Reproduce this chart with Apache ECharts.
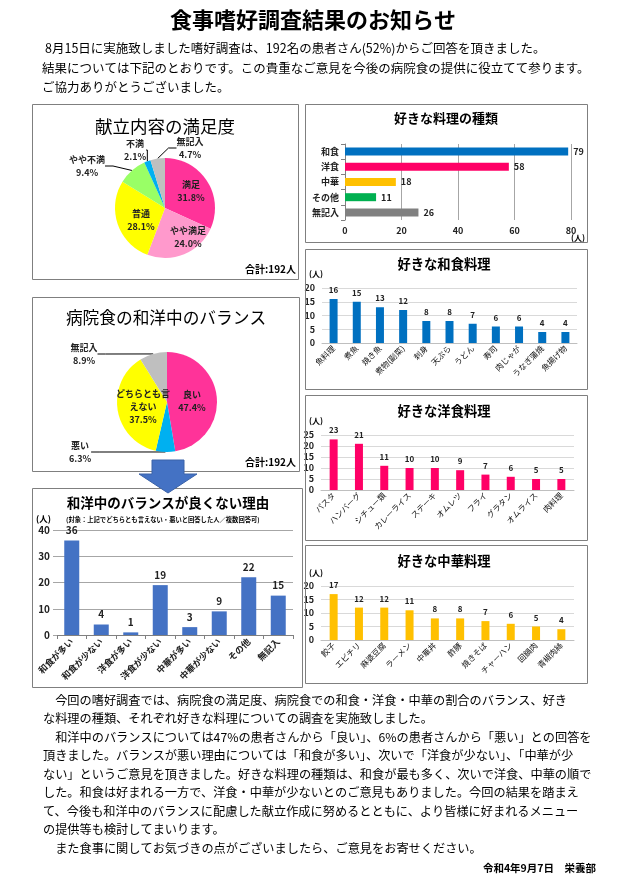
<!DOCTYPE html>
<html><head><meta charset="utf-8">
<script src="https://cdn.jsdelivr.net/npm/echarts@6/dist/echarts.min.js"></script>
<style>html,body{margin:0;padding:0;background:#fff}#c{width:627px;height:885px}</style>
</head><body><div id="c"></div>
<script>
// ---- data ----
const satisfactionLabels = ['満足','やや満足','普通','やや不満','不満','無記入'];
const satisfactionPct = [31.8, 24.0, 28.1, 9.4, 2.1, 4.7];
const balanceLabels = ['良い','悪い','どちらとも言えない','無記入'];
const balancePct = [47.4, 6.3, 37.5, 8.9];
const typeCategories = ['和食','洋食','中華','その他','無記入'];
const typeValues = [79, 58, 18, 11, 26];
const typeTicks = [0, 20, 40, 60, 80];
const washokuCats = ['魚料理','煮魚','焼き魚','煮物(副菜)','刺身','天ぷら','うどん','寿司','肉じゃが','うなぎ蒲焼','魚揚げ物'];
const washokuValues = [16, 15, 13, 12, 8, 8, 7, 6, 6, 4, 4];
const yoshokuCats = ['パスタ','ハンバーグ','シチュー類','カレーライス','ステーキ','オムレツ','フライ','グラタン','オムライス','肉料理'];
const yoshokuValues = [23, 21, 11, 10, 10, 9, 7, 6, 5, 5];
const chukaCats = ['餃子','エビチリ','麻婆豆腐','ラーメン','中華丼','酢豚','焼きそば','チャーハン','回鍋肉','青椒肉絲'];
const chukaValues = [17, 12, 12, 11, 8, 8, 7, 6, 5, 4];
const reasonCats = ['和食が多い','和食が少ない','洋食が多い','洋食が少ない','中華が多い','中華が少ない','その他','無記入'];
const reasonValues = [36, 4, 1, 19, 3, 9, 22, 15];
const titleText = '食事嗜好調査結果のお知らせ';
const introLines = [
  '8月15日に実施致しました嗜好調査は、192名の患者さん(52%)からご回答を頂きました。',
  '結果については下記のとおりです。この貴重なご意見を今後の病院食の提供に役立てて参ります。',
  'ご協力ありがとうございました。'
];
const bodyLines = [
  '　今回の嗜好調査では、病院食の満足度、病院食での和食・洋食・中華の割合のバランス、好き',
  'な料理の種類、それぞれ好きな料理についての調査を実施致しました。',
  '　和洋中のバランスについては47%の患者さんから「良い」、6%の患者さんから「悪い」との回答を',
  '頂きました。バランスが悪い理由については「和食が多い」、次いで「洋食が少ない」、「中華が少',
  'ない」というご意見を頂きました。好きな料理の種類は、和食が最も多く、次いで洋食、中華の順で',
  'した。和食は好まれる一方で、洋食・中華が少ないとのご意見もありました。今回の結果を踏まえ',
  'て、今後も和洋中のバランスに配慮した献立作成に努めるとともに、より皆様に好まれるメニュー',
  'の提供等も検討してまいります。',
  '　また食事に関してお気づきの点がございましたら、ご意見をお寄せください。'
];
const dateText = '令和4年9月7日　栄養部';
const totalText = '合計:192人';

// ---- styling ----
const F = "'Noto Sans CJK JP','Noto Sans',sans-serif";
const satColors = ['#FF3399','#FF99CC','#FFFF00','#99FF66','#00B0F0','#BFBFBF'];
const satInside = [true, true, true, false, false, false];
const satPos = [[191,191],[188,237],[141,220],[87,166],[135,150],[190,148]];
const balColors = ['#FF3399','#00B0F0','#FFFF00','#BFBFBF'];
const balInside = [true, false, true, false];
const balPos = [[192,401],[80,452],[143,407],[84,354]];

function txt(text, x, y, size, opts) {
  opts = opts || {};
  return {type:'text', x:x, y:y, z:50, silent:true, style:{
    text:text, font:(opts.bold?'bold ':'') + size + 'px ' + F,
    fill:opts.color||'#000', align:opts.align||'left', textAlign:opts.align||'left',
    verticalAlign:'middle', textVerticalAlign:'middle'}};
}
function box(x, y, w, h) {
  return {type:'rect', z:1, silent:true, shape:{x:x+0.5, y:y+0.5, width:w, height:h},
    style:{fill:'none', stroke:'#7F7F7F', lineWidth:1}};
}

const elements = [];
elements.push(txt(titleText, 313, 20, 22, {bold:true, align:'center'}));
elements.push(txt(introLines[0], 45, 48, 12.5));
elements.push(txt(introLines[1], 42, 68, 12.5));
elements.push(txt(introLines[2], 42, 87, 12.5));
bodyLines.forEach((l, i) => elements.push(txt(l, 43, 700 + i * 18.5, 12.2)));
elements.push(txt(dateText, 596, 868, 10.5, {bold:true, align:'right'}));

elements.push(box(32,104,266,175));
elements.push(box(305,104,282,138));
elements.push(box(305,249,282,140));
elements.push(box(32,297,267,174));
elements.push(box(305,395,282,145));
elements.push(box(305,545,282,138));
elements.push(box(32,488,270,199));

elements.push(txt('献立内容の満足度', 165, 126, 17.5, {align:'center'}));
elements.push(txt(totalText, 296, 269, 10, {bold:true, align:'right'}));
elements.push(txt('病院食の和洋中のバランス', 166, 318, 16.7, {align:'center'}));
elements.push(txt(totalText, 296, 462, 10, {bold:true, align:'right'}));
elements.push(txt('好きな料理の種類', 446, 118, 13, {bold:true, align:'center'}));
elements.push(txt('(人)', 578, 238, 8, {bold:true, align:'center'}));
elements.push(txt('好きな和食料理', 444, 264, 13.3, {bold:true, align:'center'}));
elements.push(txt('(人)', 309, 274, 8, {bold:true}));
elements.push(txt('好きな洋食料理', 444, 411, 13.3, {bold:true, align:'center'}));
elements.push(txt('(人)', 309, 421, 8, {bold:true}));
elements.push(txt('好きな中華料理', 444, 561, 13.3, {bold:true, align:'center'}));
elements.push(txt('(人)', 309, 573, 8, {bold:true}));
elements.push(txt('和洋中のバランスが良くない理由', 168, 503, 13.5, {bold:true, align:'center'}));
elements.push(txt('(人)', 36, 519, 8.5, {bold:true}));
elements.push(txt('(対象：上記でどちらとも言えない・悪いと回答した人／複数回答可)', 66, 520, 6.3, {bold:true}));
elements.push({type:'polygon', z:100, silent:true,
  shape:{points:[[152,460],[184,460],[184,474],[197,474],[168,493],[139,474],[152,474]]},
  style:{fill:'#4472C4', stroke:'#3A62A8', lineWidth:1}});

const lbl = {fontFamily:F, color:'#222', fontWeight:'bold'};

function vbarAxes(gi, cats, max, fs) {
  return {
    x: {type:'category', gridIndex:gi, data:cats, axisLine:{lineStyle:{color:'#BFBFBF'}},
        axisTick:{show:false}, axisLabel:Object.assign({}, lbl, {fontSize:fs||8, rotate:45, interval:0, margin:4, fontWeight:'normal', color:'#111'})},
    y: {type:'value', gridIndex:gi, min:0, max:max, interval:5, axisLine:{show:false}, axisTick:{show:false},
        splitLine:{lineStyle:{color:'#D9D9D9'}}, axisLabel:Object.assign({}, lbl, {fontSize:9, margin:7})}
  };
}
const a1 = vbarAxes(1, washokuCats, 20);
const a2 = vbarAxes(2, yoshokuCats, 25);
const a3 = vbarAxes(3, chukaCats, 20);

const option = {
  backgroundColor:'#fff',
  animation:false,
  textStyle:{fontFamily:F},
  graphic:{elements:elements},
  grid:[
    {left:345, top:144, width:226, height:76},
    {left:322, top:288, width:255, height:55},
    {left:321, top:435, width:253, height:55},
    {left:321, top:586, width:253, height:54},
    {left:57, top:530, width:236, height:105}
  ],
  xAxis:[
    {type:'value', gridIndex:0, min:0, max:80, interval:20, axisLine:{show:false}, axisTick:{show:false},
     splitLine:{lineStyle:{color:'#A6A6A6'}}, axisLabel:Object.assign({}, lbl, {fontSize:9, margin:6})},
    a1.x, a2.x, a3.x,
    {type:'category', gridIndex:4, data:reasonCats, axisLine:{lineStyle:{color:'#808080'}},
     axisTick:{show:true, length:4, lineStyle:{color:'#808080'}},
     axisLabel:Object.assign({}, lbl, {fontSize:9, rotate:45, interval:0, margin:5})}
  ],
  yAxis:[
    {type:'category', gridIndex:0, data:typeCategories, inverse:true,
     axisLine:{lineStyle:{color:'#808080'}}, axisTick:{show:true, length:4, lineStyle:{color:'#808080'}},
     axisLabel:Object.assign({}, lbl, {fontSize:9, margin:6})},
    a1.y, a2.y, a3.y,
    {type:'value', gridIndex:4, min:0, max:40, interval:10, axisLine:{show:false},
     axisTick:{show:true, length:4, lineStyle:{color:'#A6A6A6'}},
     splitLine:{lineStyle:{color:'#A6A6A6'}}, axisLabel:Object.assign({}, lbl, {fontSize:10, margin:7})}
  ],
  series:[
    {type:'bar', xAxisIndex:0, yAxisIndex:0, barWidth:8, silent:true,
     data:typeValues.map((v,i)=>({value:v, itemStyle:{color:['#0070C0','#FF0066','#FFC000','#00B050','#808080'][i]}})),
     label:Object.assign({show:true, position:'right', fontSize:9, distance:5}, lbl)},
    {type:'bar', xAxisIndex:1, yAxisIndex:1, barWidth:8, silent:true, data:washokuValues,
     itemStyle:{color:'#0070C0'}, label:Object.assign({show:true, position:'top', fontSize:8, distance:5}, lbl)},
    {type:'bar', xAxisIndex:2, yAxisIndex:2, barWidth:8, silent:true, data:yoshokuValues,
     itemStyle:{color:'#FF0066'}, label:Object.assign({show:true, position:'top', fontSize:8, distance:5}, lbl)},
    {type:'bar', xAxisIndex:3, yAxisIndex:3, barWidth:8, silent:true, data:chukaValues,
     itemStyle:{color:'#FFC000'}, label:Object.assign({show:true, position:'top', fontSize:8, distance:5}, lbl)},
    {type:'bar', xAxisIndex:4, yAxisIndex:4, barWidth:15, silent:true, data:reasonValues,
     itemStyle:{color:'#4472C4'}, label:Object.assign({show:true, position:'top', fontSize:10, distance:5}, lbl)},
    {type:'pie', center:[165,208], radius:50, startAngle:90, clockwise:true, silent:true, avoidLabelOverlap:false,
     data:satisfactionLabels.map((n,i)=>({name:n, value:satisfactionPct[i], itemStyle:{color:satColors[i]},
       label:{position:satInside[i]?'inside':'outside'}, labelLine:{show:!satInside[i]}})),
     label:Object.assign({formatter:p=>p.name+'\n'+p.value.toFixed(1)+'%', fontSize:9, lineHeight:13}, lbl),
     labelLine:{length:8, length2:8, lineStyle:{color:'#000', width:1}},
     labelLayout:p=>({x:satPos[p.dataIndex][0], y:satPos[p.dataIndex][1], align:'center', verticalAlign:'middle'})},
    {type:'pie', center:[167,402], radius:50, startAngle:90, clockwise:true, silent:true, avoidLabelOverlap:false,
     data:balanceLabels.map((n,i)=>({name:n, value:balancePct[i], itemStyle:{color:balColors[i]},
       label:{position:balInside[i]?'inside':'outside'}, labelLine:{show:!balInside[i]}})),
     label:Object.assign({formatter:p=>p.name.replace('どちらとも言えない','どちらとも言\nえない')+'\n'+p.value.toFixed(1)+'%', fontSize:9, lineHeight:13}, lbl),
     labelLine:{length:8, length2:8, lineStyle:{color:'#000', width:1}},
     labelLayout:p=>({x:balPos[p.dataIndex][0], y:balPos[p.dataIndex][1], align:'center', verticalAlign:'middle'})}
  ]
};
const chart = echarts.init(document.getElementById('c'), null, {renderer:'canvas'});
chart.setOption(option);
</script></body></html>
